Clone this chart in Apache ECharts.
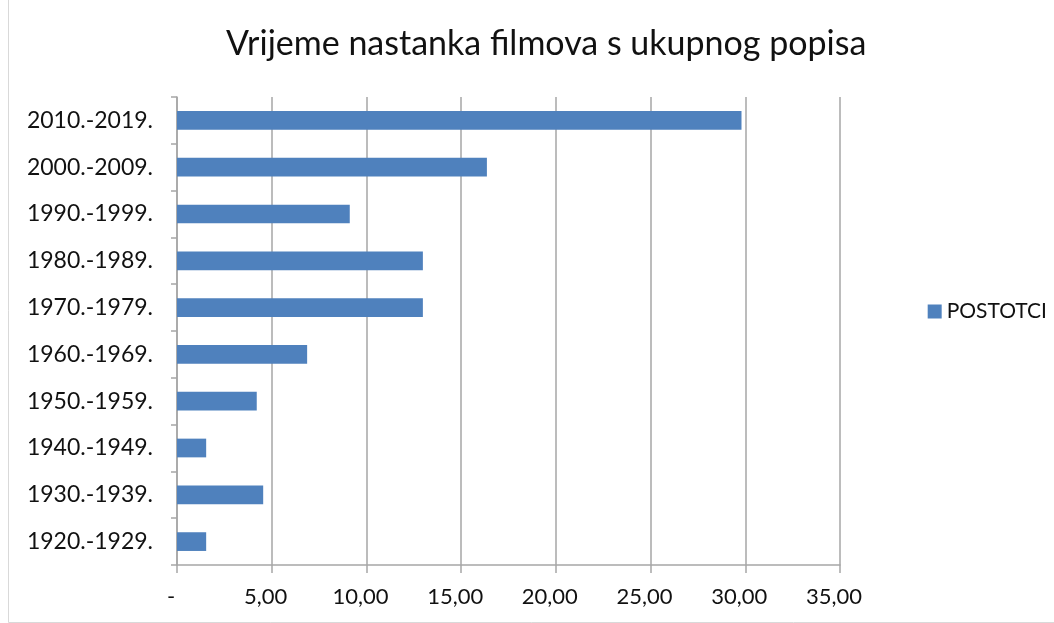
<!DOCTYPE html>
<html>
<head>
<meta charset="utf-8">
<script src="https://cdn.jsdelivr.net/npm/echarts@6/dist/echarts.min.js"></script>
<style>
  html, body { margin: 0; padding: 0; background: #fff; }
  #chart { width: 1054px; height: 623px; }
</style>
</head>
<body>
<div id="chart"></div>
<script>
// film production decades, bottom to top
var categories = ['1920.-1929.', '1930.-1939.', '1940.-1949.', '1950.-1959.', '1960.-1969.',
  '1970.-1979.', '1980.-1989.', '1990.-1999.', '2000.-2009.', '2010.-2019.']
var postotci = [1.54, 4.55, 1.54, 4.21, 6.87, 12.98, 12.98, 9.12, 16.36, 29.8]
var xTicks = [0, 5, 10, 15, 20, 25, 30, 35]

var font = 'Lato, "Open Sans", sans-serif'
var chart = echarts.init(document.getElementById('chart'))

var option = {
  animation: false,
  textStyle: { fontFamily: font },
  title: {
    text: 'Vrijeme nastanka filmova s ukupnog popisa',
    left: 221,
    top: 22,
    textStyle: { fontFamily: font, fontSize: 34, fontWeight: 'normal', color: '#111' }
  },
  legend: {
    data: ['POSTOTCI'],
    right: 2,
    top: 'middle',
    orient: 'vertical',
    itemWidth: 14,
    itemHeight: 14,
    itemGap: 5,
    icon: 'rect',
    textStyle: { fontFamily: font, fontSize: 21, color: '#111' }
  },
  grid: { left: 177, right: 214, top: 97, bottom: 58 },
  xAxis: {
    type: 'value',
    min: xTicks[0],
    max: xTicks[xTicks.length - 1],
    interval: 5,
    axisLine: { show: true, lineStyle: { color: '#a6a6a6', width: 1.5 } },
    axisTick: { show: true, length: 8, lineStyle: { color: '#a6a6a6', width: 1.5 } },
    splitLine: { show: true, lineStyle: { color: '#a6a6a6', width: 1.5 } },
    axisLabel: {
      margin: 21,
      fontSize: 22,
      color: '#111',
      fontFamily: font,
      padding: [0, 12, 0, 0],
      formatter: function (v) {
        if (v === 0) return '-'
        return v.toFixed(2).replace('.', ',')
      }
    }
  },
  yAxis: {
    type: 'category',
    data: categories,
    axisLine: { show: true, lineStyle: { color: '#a6a6a6', width: 1.5 } },
    axisTick: { show: true, length: 6, lineStyle: { color: '#a6a6a6', width: 1.5 } },
    axisLabel: { margin: 24, fontSize: 23, color: '#111', fontFamily: font }
  },
  series: [{
    name: 'POSTOTCI',
    type: 'bar',
    data: postotci,
    barCategoryGap: '60%',
    itemStyle: { color: '#4f81bd' }
  }],
  graphic: [{
    type: 'rect',
    shape: { x: 8.5, y: -2, width: 1100, height: 624.5 },
    style: { fill: 'none', stroke: '#d9d9d9', lineWidth: 1 },
    silent: true
  }]
}

chart.setOption(option)
</script>
</body>
</html>
